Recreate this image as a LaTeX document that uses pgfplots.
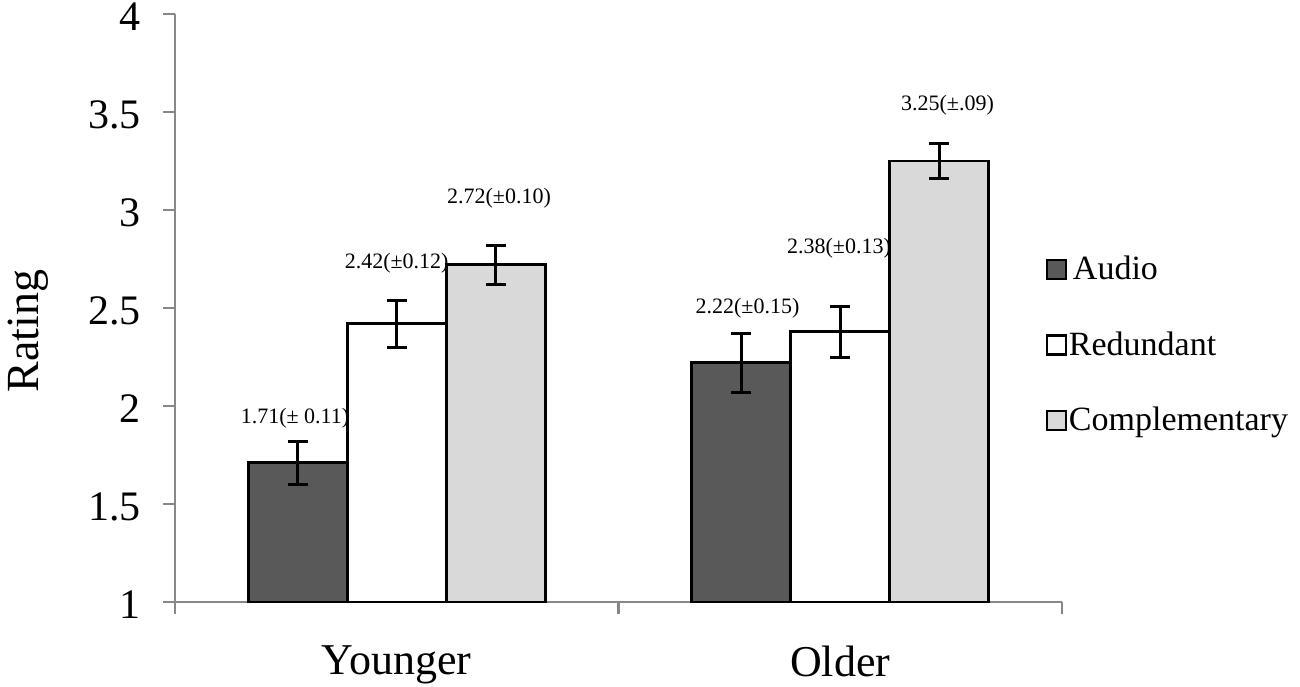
\documentclass[border=0pt]{standalone}
\usepackage{fontspec}
\setmainfont{Liberation Serif}
\usepackage{pgfplots}
\pgfplotsset{compat=1.18}
\definecolor{audio}{HTML}{595959}
\definecolor{compl}{HTML}{D9D9D9}
\definecolor{axgray}{HTML}{878787}
\pgfplotsset{
  mybar/.style={ybar, bar width=49.5pt, bar shift=0pt, draw=black, line width=1.4pt,
    legend image code/.code={\draw[##1, line width=1.2pt] (0pt,-4.75pt) rectangle (9.5pt,4.75pt);},
    error bars/y dir=both, error bars/y explicit,
    error bars/error bar style={line width=1.5pt, black, solid},
    error bars/error mark options={rotate=90, line width=1.5pt, mark size=5pt, black}},
}
\begin{document}
\begin{tikzpicture}
\useasboundingbox (-87.5pt,-42pt) rectangle (562.5pt,301pt);
\begin{axis}[
  at={(0,0)}, anchor=south west,
  scale only axis, width=443.5pt, height=294pt,
  xmin=0, xmax=2, ymin=1, ymax=4,
  axis lines*=left,
  axis line style={draw=axgray, line width=1.2pt},
  tick align=outside,
  major tick length=6pt,
  tick style={draw=axgray, line width=1.2pt},
  ytick={1,1.5,2,2.5,3,3.5,4},
  yticklabels={1,1.5,2,2.5,3,3.5,4},
  yticklabel style={font=\fontsize{21}{25}\selectfont, xshift=-7.5pt, yshift=-1.5pt},
  xtick={0,1,2}, xticklabels={,,},
  extra x ticks={0.5,1.5}, extra x tick labels={Younger,Older},
  extra x tick style={major tick length=0pt, xticklabel style={font=\fontsize{22}{26}\selectfont, yshift=-18.5pt}},
  ylabel={Rating},
  every axis y label/.style={at={(axis description cs:-0.166,0.461)}, rotate=90, anchor=center, font=\fontsize{23}{27}\selectfont},
  legend style={at={(axis description cs:0.981,0.437)}, anchor=west, draw=none, fill=none, inner sep=0pt,
    font=\fontsize{17}{20}\selectfont, row sep=22.5pt, nodes={inner sep=1pt}},
  legend cell align=left,
]
\addplot[mybar, fill=audio] coordinates {(0.2768,1.71) +- (0,0.11) (1.2768,2.22) +- (0,0.15)};
\addlegendentry{\hspace{2pt}Audio}
\addplot[mybar, fill=white] coordinates {(0.5,2.42) +- (0,0.12) (1.5,2.38) +- (0,0.13)};
\addlegendentry{Redundant}
\addplot[mybar, fill=compl] coordinates {(0.7232,2.72) +- (0,0.10) (1.7232,3.25) +- (0,0.09)};
\addlegendentry{Complementary}
\begin{scope}[every node/.style={font=\fontsize{11}{13}\selectfont}]
\node at (axis cs:0.2706,1.939) {1.71(± 0.11)};
\node at (axis cs:0.4999,2.731) {2.42(±0.12)};
\node at (axis cs:0.7306,3.060) {2.72(±0.10)};
\node at (axis cs:1.2909,2.498) {2.22(±0.15)};
\node at (axis cs:1.4972,2.805) {2.38(±0.13)};
\node at (axis cs:1.7418,3.536) {3.25(±.09)};
\end{scope}
\end{axis}
\end{tikzpicture}
\end{document}
